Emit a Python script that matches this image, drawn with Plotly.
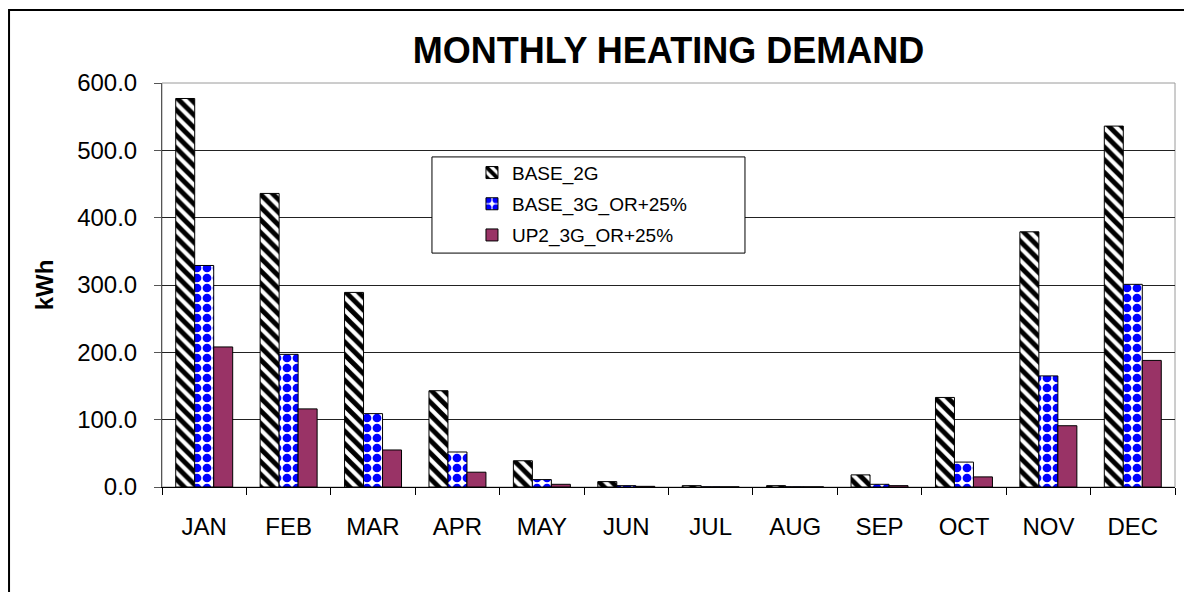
import plotly.graph_objects as go

months = ["JAN", "FEB", "MAR", "APR", "MAY", "JUN", "JUL", "AUG", "SEP", "OCT", "NOV", "DEC"]
base_2g = [577, 436, 289, 143, 39, 8, 2, 2, 18, 133, 379, 536]
base_3g = [329, 197, 109, 52, 11, 2, 0.3, 0.3, 4, 37, 165, 301]
up2_3g = [208, 116, 55, 22, 4, 1, 0.2, 0.2, 2, 15, 91, 188]

y_ticks = [0, 100, 200, 300, 400, 500, 600]

FONT = "Arial, Liberation Sans, sans-serif"

fig = go.Figure()

fig.add_trace(go.Bar(
    x=months, y=base_2g, name="BASE_2G", legendgroup="a",
    marker=dict(color="white", line=dict(color="black", width=1),
                pattern=dict(shape="\\", fgcolor="black", bgcolor="white", fgopacity=1,
                             size=9, solidity=0.55)),
))
fig.add_trace(go.Bar(
    x=months, y=base_3g, name="BASE_3G_OR+25%", legendgroup="b",
    marker=dict(color="white", line=dict(color="black", width=1),
                pattern=dict(shape=".", fgcolor="#0000ff", bgcolor="white", fgopacity=1,
                             size=10, solidity=0.6)),
))
fig.add_trace(go.Bar(
    x=months, y=up2_3g, name="UP2_3G_OR+25%", legendgroup="c",
    marker=dict(color="#993366", line=dict(color="black", width=1)),
))

# outer chart border, plot area border, legend box
fig.add_shape(type="rect", xref="paper", yref="paper", x0=-0.151, x1=1.0109, y0=-0.27, y1=1.1807,
              line=dict(color="black", width=2), fillcolor="rgba(0,0,0,0)", layer="below")
fig.add_shape(type="rect", xref="paper", yref="paper", x0=0, x1=1, y0=0, y1=1,
              line=dict(color="#9a9a9a", width=1), layer="between")
fig.add_shape(type="rect", xref="paper", yref="paper", x0=0.2665, x1=0.5755, y0=0.579, y1=0.817,
              line=dict(color="black", width=1), fillcolor="white", layer="above")

fig.update_layout(
    width=1184, height=584,
    margin=dict(l=154, r=17, t=75, b=105),
    paper_bgcolor="white", plot_bgcolor="white",
    font=dict(family=FONT, color="black"),
    title=dict(text="<b>MONTHLY HEATING DEMAND</b>", font=dict(size=36, color="black"),
               x=0.5, xanchor="center", xref="paper", y=0.928, yanchor="middle", yref="container"),
    barmode="group", bargap=0.325, bargroupgap=0,
    showlegend=True,
    legend=dict(x=0.306, y=0.825, xanchor="left", yanchor="top", bgcolor="rgba(0,0,0,0)",
                font=dict(size=19, color="black"), tracegroupgap=3.5),
)

fig.update_xaxes(
    showline=True, linecolor="black", linewidth=1,
    ticks="outside", ticklen=7, tickcolor="black", tickson="boundaries",
    tickfont=dict(size=24), ticklabelstandoff=18, showgrid=False,
)
fig.update_yaxes(
    range=[0, 600], tickvals=y_ticks, tickformat=".1f",
    showline=True, linecolor="#555555", linewidth=1,
    ticks="outside", ticklen=7, tickcolor="#555555",
    tickfont=dict(size=24), ticklabelstandoff=12,
    showgrid=True, gridcolor="#222222", gridwidth=1, zeroline=False,
    title=dict(text="<b>kWh</b>", font=dict(size=24), standoff=16),
)

fig.write_html("out.html")
